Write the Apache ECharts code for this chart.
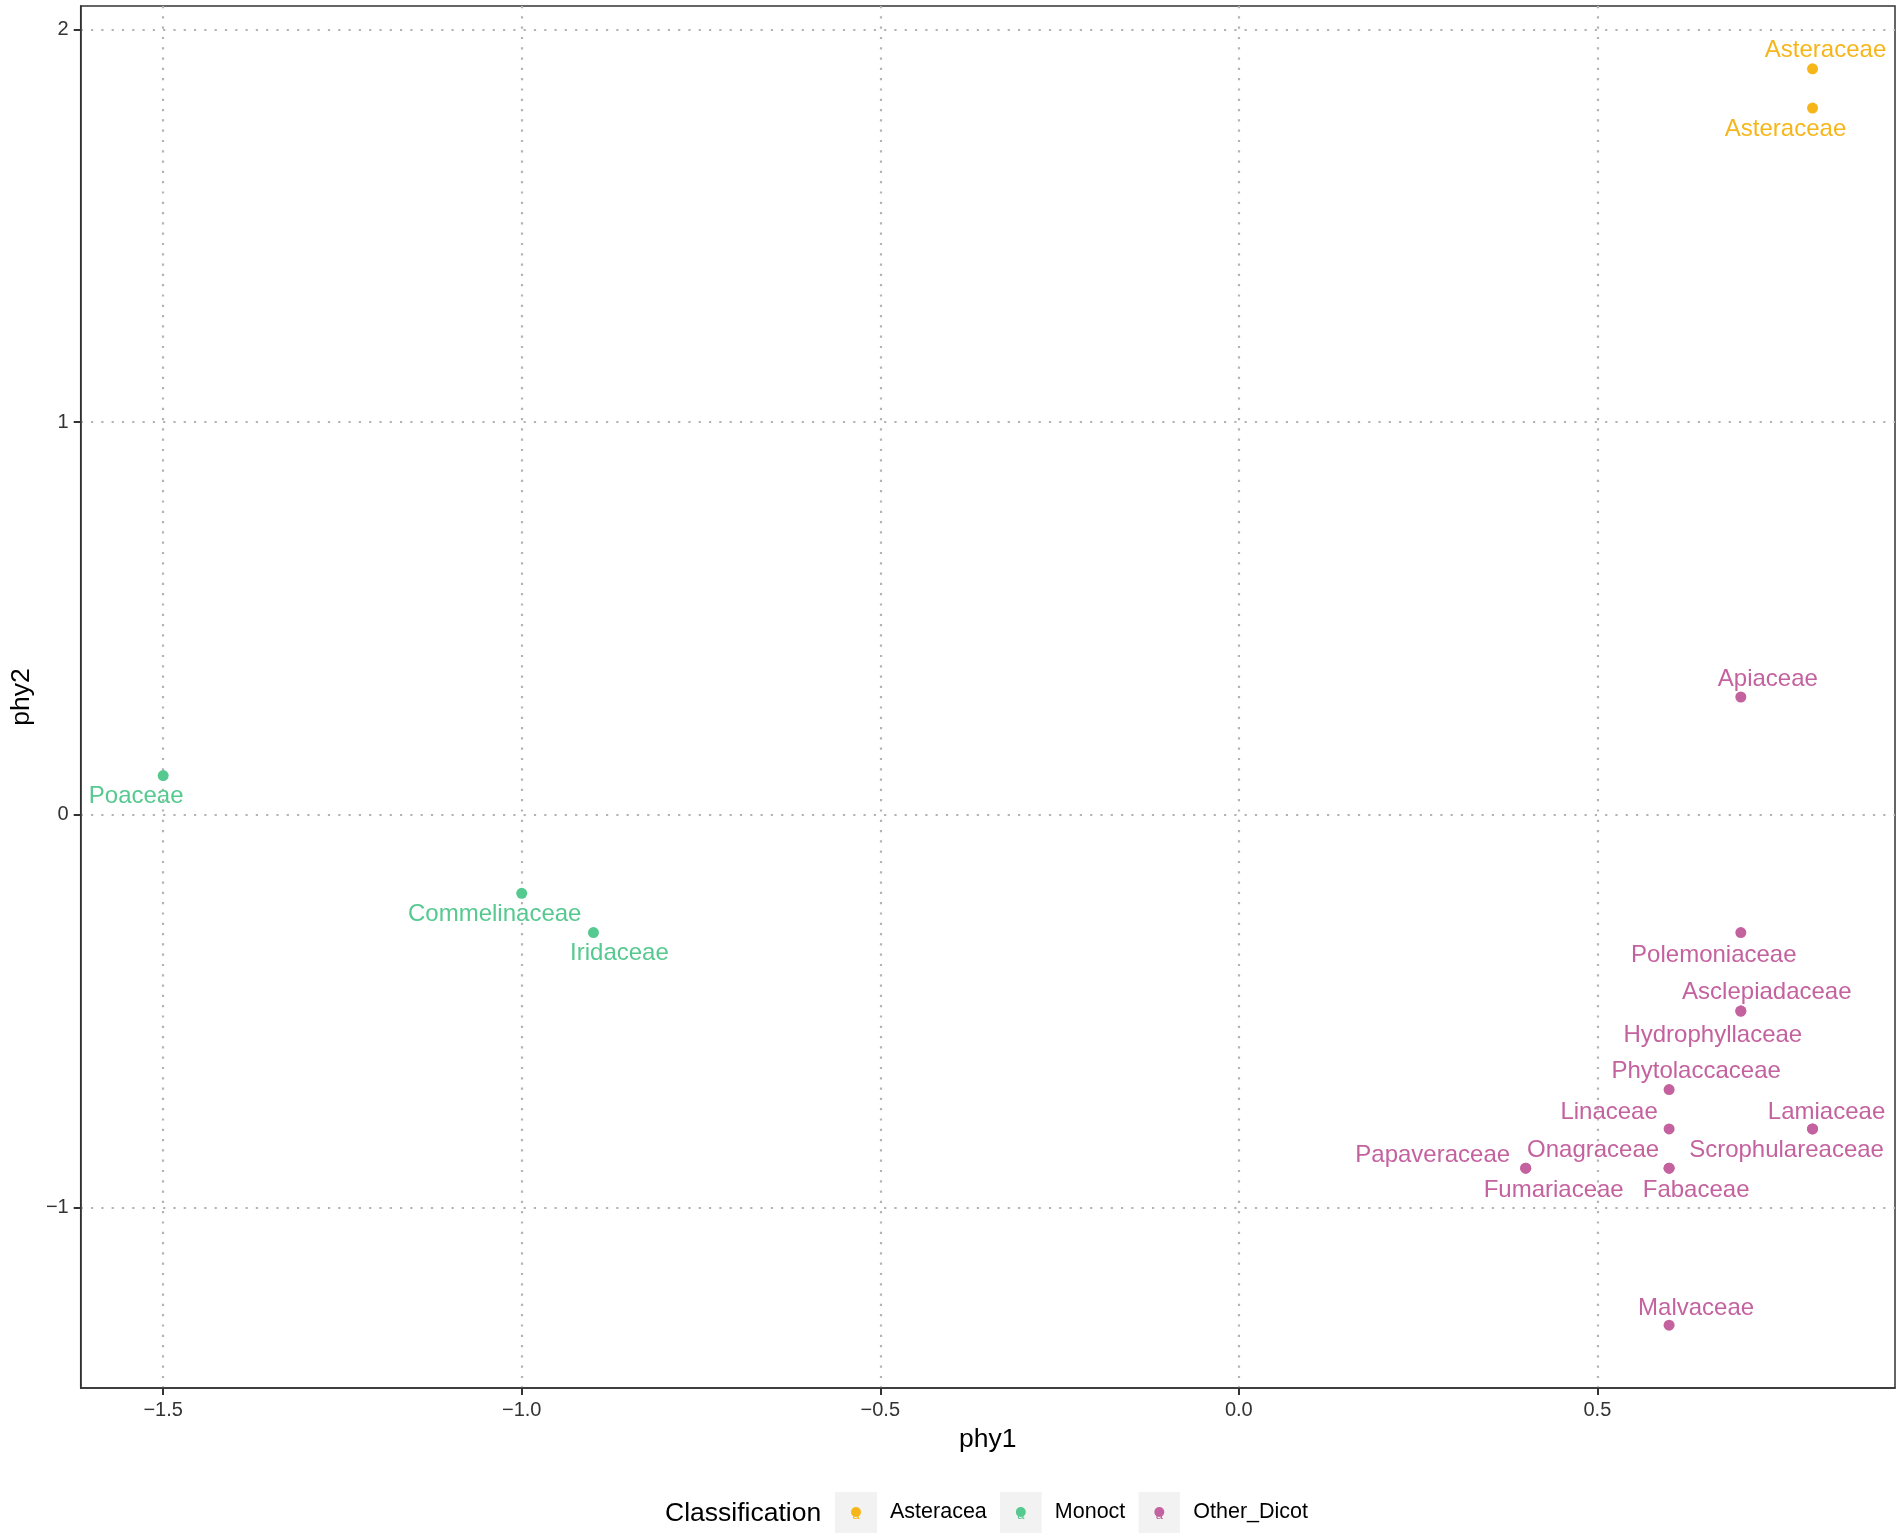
<!DOCTYPE html>
<html>
<head>
    <meta charset="UTF-8">
    <title>phy1 / phy2</title>
    <style type="text/css">
        html, body { margin: 0; padding: 0; background: #fff; }
        #main { width: 1902px; height: 1539px; }
    </style>
</head>
<body>
<div id="main"></div>
<script src="https://cdn.jsdelivr.net/npm/echarts@6/dist/echarts.min.js"></script>
<script>
    // data
    var families = ['Asteraceae', 'Asteraceae', 'Apiaceae', 'Poaceae', 'Commelinaceae', 'Iridaceae',
        'Polemoniaceae', 'Asclepiadaceae', 'Hydrophyllaceae', 'Phytolaccaceae', 'Linaceae',
        'Lamiaceae', 'Scrophulareaceae', 'Onagraceae', 'Fabaceae', 'Papaveraceae', 'Fumariaceae', 'Malvaceae'];
    var phy1 = [0.8, 0.8, 0.7, -1.5, -1.0, -0.9, 0.7, 0.7, 0.7, 0.6, 0.6, 0.8, 0.8, 0.6, 0.6, 0.4, 0.4, 0.6];
    var phy2 = [1.9, 1.8, 0.3, 0.1, -0.2, -0.3, -0.3, -0.5, -0.5, -0.7, -0.8, -0.8, -0.8, -0.9, -0.9, -0.9, -0.9, -1.3];
    var groups = ['Asteracea', 'Asteracea', 'Other_Dicot', 'Monoct', 'Monoct', 'Monoct',
        'Other_Dicot', 'Other_Dicot', 'Other_Dicot', 'Other_Dicot', 'Other_Dicot',
        'Other_Dicot', 'Other_Dicot', 'Other_Dicot', 'Other_Dicot', 'Other_Dicot', 'Other_Dicot', 'Other_Dicot'];
    var classNames = ['Asteracea', 'Monoct', 'Other_Dicot'];
    var xTicks = [-1.5, -1.0, -0.5, 0.0, 0.5];
    var yTicks = [-1, 0, 1, 2];

    // styling
    var colors = {Asteracea: '#F6B61A', Monoct: '#55C98F', Other_Dicot: '#C4629F'};
    // pixel offsets of the repelled labels, one per point, same order as families
    var labelOffsets = [[13, -18], [-27, 21], [27, -18], [-27, 21], [-27, 21], [26, 21],
        [-27, 23], [26, -19], [-28, 24], [27, -18], [-60, -17],
        [14, -17], [-26, 21], [-76, -18], [27, 22], [-93, -13], [28, 22], [27, -17]];

    var FONT = '"Liberation Sans", Arial, Helvetica, sans-serif';

    function minusFmt(v, digits) {
        return (v < 0 ? '\u2212' : '') + Math.abs(v).toFixed(digits);
    }

    function keyIcon(color) {
        var svg = "<svg xmlns='http://www.w3.org/2000/svg' width='42' height='41'>" +
            "<rect width='42' height='41' fill='#F2F2F2'/>" +
            "<text x='21' y='27' font-size='13' font-family='Liberation Sans, Arial' text-anchor='middle' fill='" + color + "'>a</text>" +
            "<circle cx='21' cy='20' r='5' fill='" + color + "'/>" +
            "</svg>";
        return 'image://data:image/svg+xml;charset=utf-8,' + encodeURIComponent(svg);
    }

    var series = classNames.map(function (cls) {
        var data = [];
        for (var i = 0; i < families.length; i++) {
            if (groups[i] !== cls) continue;
            data.push({
                name: families[i],
                value: [phy1[i], phy2[i]],
                label: {offset: labelOffsets[i]}
            });
        }
        return {
            name: cls,
            type: 'scatter',
            symbol: 'circle',
            symbolSize: 11,
            itemStyle: {color: colors[cls], opacity: 1},
            label: {
                show: true,
                position: 'inside',
                formatter: '{b}',
                color: colors[cls],
                fontFamily: FONT,
                fontSize: 24
            },
            emphasis: {disabled: true},
            data: data
        };
    });

    var gridLine = {show: true, lineStyle: {color: '#B3B3B3', width: 2.2, type: [2.2, 8.1]}};

    var chart = echarts.init(document.getElementById('main'));
    chart.setOption({
        animation: false,
        backgroundColor: '#fff',
        textStyle: {fontFamily: FONT},
        title: {
            text: 'Classification',
            left: 665,
            top: 1500,
            padding: 0,
            textStyle: {fontSize: 26.5, fontWeight: 'normal', color: '#000', fontFamily: FONT}
        },
        legend: {
            left: 835,
            top: 1492,
            padding: 0,
            itemWidth: 42,
            itemHeight: 41,
            itemGap: 13,
            selectedMode: false,
            textStyle: {fontSize: 21.5, color: '#000', fontFamily: FONT, padding: [0, 0, 0, 8]},
            data: classNames.map(function (c) { return {name: c, icon: keyIcon(colors[c])}; })
        },
        grid: {
            left: 75, right: 7, top: 6, bottom: 151,
            show: true, borderColor: '#333', borderWidth: 1.5, backgroundColor: '#fff'
        },
        xAxis: {
            type: 'value',
            min: -1.615,
            max: 0.915,
            name: 'phy1',
            nameLocation: 'middle',
            nameGap: 38,
            nameTextStyle: {fontSize: 26.5, color: '#000', fontFamily: FONT},
            axisLine: {show: true, onZero: false, lineStyle: {color: '#333', width: 1.5}},
            axisTick: {show: true, length: 7, lineStyle: {color: '#333', width: 2}, customValues: xTicks},
            axisLabel: {
                customValues: xTicks, margin: 12, fontSize: 20, color: '#333', fontFamily: FONT,
                formatter: function (v) { return minusFmt(v, 1); }
            },
            splitLine: gridLine
        },
        yAxis: {
            type: 'value',
            min: -1.46,
            max: 2.06,
            name: 'phy2',
            nameLocation: 'middle',
            nameGap: 42,
            nameTextStyle: {fontSize: 26.5, color: '#000', fontFamily: FONT},
            axisLine: {show: true, onZero: false, lineStyle: {color: '#333', width: 1.5}},
            axisTick: {show: true, length: 7, lineStyle: {color: '#333', width: 2}, customValues: yTicks},
            axisLabel: {
                customValues: yTicks, margin: 12, fontSize: 20, color: '#333', fontFamily: FONT,
                formatter: function (v) { return minusFmt(v, 0); }
            },
            splitLine: gridLine
        },
        series: series
    });
</script>
</body>
</html>
